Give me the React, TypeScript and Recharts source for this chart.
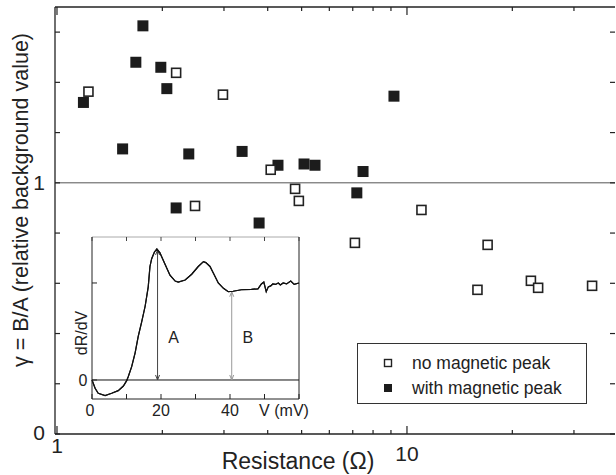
import React from "react";
import {
  ScatterChart,
  Scatter,
  LineChart,
  Line,
  XAxis,
  YAxis,
  ReferenceLine,
  Legend,
  Label,
} from "recharts";

const FONT = '"Liberation Sans", Arial, Helvetica, sans-serif';
const INK = "#222";

// main plot: resistance (ohm) vs gamma = B/A
const FILLED_R = [1.19, 1.76, 1.68, 1.98, 2.06, 1.54, 2.38, 3.38, 4.28, 5.08, 5.46, 2.19, 3.78, 9.18, 7.49, 7.19];
const FILLED_G = [1.32, 1.625, 1.48, 1.46, 1.375, 1.135, 1.115, 1.125, 1.07, 1.075, 1.07, 0.9, 0.84, 1.345, 1.045, 0.96];
const OPEN_R = [1.23, 2.19, 2.98, 4.08, 2.48, 4.79, 4.91, 11.0, 7.1, 17.0, 15.9, 22.6, 23.7, 33.8];
const OPEN_G = [1.363, 1.438, 1.351, 1.052, 0.908, 0.976, 0.928, 0.892, 0.761, 0.753, 0.574, 0.61, 0.582, 0.59];

const X_TICKS = [1, 2, 3, 4, 5, 6, 7, 8, 9, 10, 20, 30];
const Y_TICKS = [0, 0.2, 0.4, 0.6, 0.8, 1, 1.2, 1.4, 1.6];

// inset: dR/dV vs V (mV)
const INSET_V = [0, 0.9, 1.8, 3.8, 5.7, 7.6, 9.1, 10.05, 10.5, 11.5, 12.5, 13.4, 14.4, 15.4, 16.3, 16.8, 17.3, 18.1, 18.8, 19.7, 21.2, 22.6, 24.1, 25, 27, 28.9, 30.8, 32.3, 33, 34.2, 35.2, 36.6, 38.1, 39.5, 40.9, 43.3, 46.2, 48.1, 49.1, 49.8, 50.5, 51.1, 51.8, 52.4, 53.2, 54, 54.6, 55.4, 56.4, 57.6, 58.6, 60];
const INSET_D = [0, -0.086, -0.137, -0.16, -0.137, -0.11, -0.062, -0.007, 0.034, 0.137, 0.28, 0.45, 0.6, 0.76, 0.96, 1.17, 1.25, 1.32, 1.35, 1.31, 1.19, 1.08, 1.02, 1.01, 1.03, 1.09, 1.17, 1.22, 1.21, 1.17, 1.1, 1.0, 0.945, 0.91, 0.915, 0.93, 0.935, 0.94, 0.99, 1.01, 0.91, 0.96, 0.97, 0.99, 0.985, 1.0, 0.98, 1.0, 0.99, 1.02, 0.985, 1.0];
const INSET_TICKS = [0, 10, 20, 30, 40, 50, 60];
const INSET_LABELED = [0, 20, 40];

const filled = FILLED_R.map((r, i) => ({ r, g: FILLED_G[i] }));
const open = OPEN_R.map((r, i) => ({ r, g: OPEN_G[i] }));
const inset = INSET_V.map((v, i) => ({ v, d: INSET_D[i] }));

const X_DOMAIN = [0.987, 39.3];

const FilledSquare = (p: any) => (
  <rect x={p.cx - 5.5} y={p.cy - 5.5} width={11} height={11} fill="#1c1c1c" />
);
const OpenSquare = (p: any) => (
  <rect x={p.cx - 4.5} y={p.cy - 4.5} width={9} height={9} fill="#fff" stroke={INK} strokeWidth={1.6} />
);

// ticks all point inward
const BottomTick = (p: any) => {
  const v = p.payload.value;
  const major = v === 1 || v === 10;
  return (
    <g>
      <line x1={p.x} y1={p.y} x2={p.x} y2={p.y - (major ? 8 : 4)} stroke={INK} strokeWidth={1.2} />
      {major && (
        <text x={p.x} y={p.y + (v === 1 ? 19 : 27)} textAnchor="middle" fontSize={21} fill={INK} fontFamily={FONT}>
          {v}
        </text>
      )}
    </g>
  );
};
const TopTick = (p: any) => {
  const v = p.payload.value;
  const major = v === 1 || v === 10;
  return <line x1={p.x} y1={p.y} x2={p.x} y2={p.y + (major ? 8 : 4)} stroke={INK} strokeWidth={1.2} />;
};
const LeftTick = (p: any) => {
  const v = p.payload.value;
  return (
    <g>
      <line x1={p.x} y1={p.y} x2={p.x + 5} y2={p.y} stroke={INK} strokeWidth={1.2} />
      {(v === 0 || v === 1) && (
        <text x={p.x - 10} y={p.y + (v === 0 ? 5.5 : 7.5)} textAnchor="end" fontSize={21} fill={INK} fontFamily={FONT}>
          {v}
        </text>
      )}
    </g>
  );
};
const RightTick = (p: any) => (
  <line x1={p.x} y1={p.y} x2={p.x - 5} y2={p.y} stroke={INK} strokeWidth={1.2} />
);

const InsetBottomTick = (p: any) => {
  const v = p.payload.value;
  return (
    <g>
      <line x1={p.x} y1={p.y} x2={p.x} y2={p.y - 5} stroke={INK} />
      {INSET_LABELED.includes(v) && (
        <text x={p.x - (v === 0 ? 2 : 0)} y={p.y + 17} textAnchor="middle" fontSize={16} fill={INK} fontFamily={FONT}>
          {v}
        </text>
      )}
    </g>
  );
};
const InsetTopTick = (p: any) => <line x1={p.x} y1={p.y} x2={p.x} y2={p.y + 4} stroke="#444" />;
const InsetLeftTick = (p: any) => {
  const v = p.payload.value;
  return (
    <g>
      <line x1={p.x} y1={p.y} x2={p.x + 5} y2={p.y} stroke={INK} />
      {v === 0 && (
        <text x={p.x - 4.5} y={p.y + 6.5} textAnchor="end" fontSize={16} fill={INK} fontFamily={FONT}>
          0
        </text>
      )}
    </g>
  );
};

const makeArrow = (color: string, name: string) => (p: any) => {
  const x = p.x1;
  const top = Math.min(p.y1, p.y2);
  const bot = Math.max(p.y1, p.y2);
  return (
    <g>
      <line x1={x} y1={top} x2={x} y2={bot} stroke={color} strokeWidth={1} />
      <path d={`M${x - 2},${top + 5} L${x},${top} L${x + 2},${top + 5}`} fill="none" stroke={color} />
      <path d={`M${x - 2},${bot - 5} L${x},${bot} L${x + 2},${bot - 5}`} fill="none" stroke={color} />
      <text x={x + 16} y={bot - 37} textAnchor="middle" fontSize={16} fill={INK} fontFamily={FONT}>
        {name}
      </text>
    </g>
  );
};

const LegendBox = () => (
  <div
    style={{
      width: 230,
      height: 61,
      border: "1px solid #333",
      boxSizing: "border-box",
      position: "relative",
      background: "#fff",
      fontFamily: FONT,
      fontSize: 17.5,
      color: INK,
    }}
  >
    {[
      { label: "no magnetic peak", fill: false, top: 19 },
      { label: "with magnetic peak", fill: true, top: 44 },
    ].map((row) => (
      <div key={row.label} style={{ position: "absolute", left: 0, top: row.top - 11, height: 22, width: 228 }}>
        <svg width={10} height={10} style={{ position: "absolute", left: 25, top: 6 }}>
          {row.fill ? (
            <rect x={1} y={1} width={8} height={8} fill="#1c1c1c" />
          ) : (
            <rect x={1.5} y={1.5} width={7} height={7} fill="#fff" stroke={INK} strokeWidth={1.4} />
          )}
        </svg>
        <span style={{ position: "absolute", left: 54, top: 0, lineHeight: "22px", whiteSpace: "nowrap" }}>
          {row.label}
        </span>
      </div>
    ))}
  </div>
);

export default function App() {
  return (
    <div style={{ position: "absolute", left: 0, top: 0, width: 616, height: 475, background: "#fff", overflow: "hidden" }}>
      <ScatterChart width={616} height={475} margin={{ top: 6, right: 0, bottom: 0, left: 0 }}>
        <XAxis
          xAxisId="b"
          dataKey="r"
          type="number"
          scale="log"
          domain={X_DOMAIN}
          allowDataOverflow
          ticks={X_TICKS}
          interval={0}
          height={41}
          tickSize={0}
          tickMargin={0}
          tickLine={false}
          axisLine={{ stroke: INK, strokeWidth: 1.3 }}
          tick={BottomTick}
        >
          <Label
            content={() => (
              <text x={298} y={469} textAnchor="middle" fontSize={23} fill={INK} fontFamily={FONT}>
                Resistance (Ω)
              </text>
            )}
          />
        </XAxis>
        <XAxis
          xAxisId="t"
          orientation="top"
          dataKey="r"
          type="number"
          scale="log"
          domain={X_DOMAIN}
          allowDataOverflow
          ticks={X_TICKS}
          interval={0}
          height={1}
          tickSize={0}
          tickMargin={0}
          tickLine={false}
          axisLine={{ stroke: INK, strokeWidth: 1.3 }}
          tick={TopTick}
        />
        <YAxis
          yAxisId="l"
          dataKey="g"
          type="number"
          domain={[0, 1.7]}
          allowDataOverflow
          ticks={Y_TICKS}
          interval={0}
          width={55}
          tickSize={0}
          tickMargin={0}
          tickLine={false}
          axisLine={{ stroke: INK, strokeWidth: 1.3 }}
          tick={LeftTick}
        >
          <Label
            content={() => (
              <text transform="rotate(-90)" x={-200} y={27.5} textAnchor="middle" fontSize={21.5} fill={INK} fontFamily={FONT}>
                γ = B/A (relative background value)
              </text>
            )}
          />
        </YAxis>
        <YAxis
          yAxisId="r"
          orientation="right"
          dataKey="g"
          type="number"
          domain={[0, 1.7]}
          allowDataOverflow
          ticks={Y_TICKS}
          interval={0}
          width={1}
          tickSize={0}
          tickMargin={0}
          tickLine={false}
          axisLine={false}
          tick={RightTick}
        />
        <ReferenceLine xAxisId="b" yAxisId="l" y={1} stroke="#555" strokeWidth={1} />
        {/* filled series drives the top/right axes so they get drawn too */}
        <Scatter xAxisId="t" yAxisId="r" name="with magnetic peak" data={filled} shape={FilledSquare} isAnimationActive={false} />
        <Scatter xAxisId="b" yAxisId="l" name="no magnetic peak" data={open} shape={OpenSquare} isAnimationActive={false} />
        <Legend
          layout="horizontal"
          verticalAlign="middle"
          align="center"
          wrapperStyle={{ left: 357, top: 343, width: 230, height: 61 }}
          content={LegendBox}
        />
      </ScatterChart>

      <div style={{ position: "absolute", left: 50, top: 226 }}>
        <LineChart width={265} height={200} data={inset} margin={{ top: 10, right: 15, bottom: 0, left: 0 }}>
          <XAxis
            dataKey="v"
            type="number"
            domain={[0, 60]}
            ticks={INSET_TICKS}
            interval={0}
            height={27}
            tickSize={0}
            tickMargin={0}
            tickLine={false}
            axisLine={{ stroke: INK }}
            tick={InsetBottomTick}
          >
            <Label
              content={() => (
                <text x={234} y={190} textAnchor="middle" fontSize={16} fill={INK} fontFamily={FONT}>
                  V (mV)
                </text>
              )}
            />
          </XAxis>
          <XAxis
            xAxisId="t"
            orientation="top"
            dataKey="v"
            type="number"
            domain={[0, 60]}
            ticks={INSET_TICKS}
            interval={0}
            height={1}
            tickSize={0}
            tickMargin={0}
            tickLine={false}
            axisLine={{ stroke: "#aaa" }}
            tick={InsetTopTick}
          />
          <YAxis
            type="number"
            domain={[-0.196, 1.474]}
            allowDataOverflow
            ticks={[0, 1]}
            interval={0}
            width={42}
            tickSize={0}
            tickMargin={0}
            tickLine={false}
            axisLine={{ stroke: INK }}
            tick={InsetLeftTick}
          >
            <Label
              content={() => (
                <text transform="rotate(-90)" x={-107} y={37} textAnchor="middle" fontSize={16} fill={INK} fontFamily={FONT}>
                  dR/dV
                </text>
              )}
            />
          </YAxis>
          <YAxis
            yAxisId="r"
            orientation="right"
            type="number"
            domain={[-0.196, 1.474]}
            allowDataOverflow
            width={1}
            tick={false}
            tickLine={false}
            axisLine={{ stroke: INK }}
          />
          <ReferenceLine y={0} stroke="#111" />
          <ReferenceLine segment={[{ x: 19, y: 0 }, { x: 19, y: 1.34 }]} shape={makeArrow("#444", "A")} />
          <ReferenceLine segment={[{ x: 40.5, y: 0 }, { x: 40.5, y: 0.91 }]} shape={makeArrow("#999", "B")} />
          <Line dataKey="d" type="linear" stroke="#111" strokeWidth={1.2} dot={false} isAnimationActive={false} />
          {/* same curve on the top/right axes (drawn over itself) so those axes are rendered */}
          <Line xAxisId="t" yAxisId="r" dataKey="d" type="linear" stroke="#111" strokeWidth={1.2} dot={false} isAnimationActive={false} />
        </LineChart>
      </div>
    </div>
  );
}
